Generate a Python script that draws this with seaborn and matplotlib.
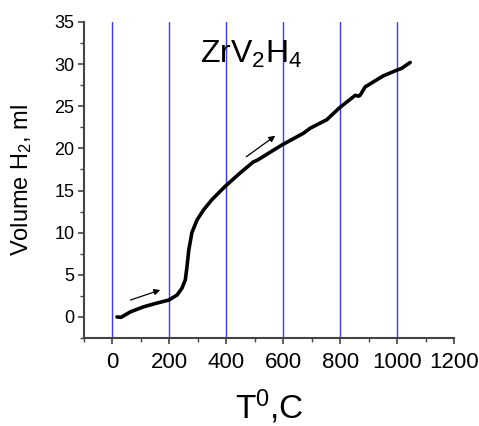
import matplotlib
matplotlib.use("Agg")
import matplotlib.pyplot as plt
import seaborn as sns
import pandas as pd
from matplotlib.ticker import MultipleLocator, FixedLocator

# Data
temperature = [16, 30, 63, 109, 157, 198, 227, 244, 256, 262, 268, 279, 297, 320, 349,
               396, 449, 495, 509, 595, 671, 695, 741, 753, 797, 853, 865, 870, 888,
               951, 993, 1016, 1046]
volume = [0.0, -0.05, 0.6, 1.2, 1.65, 2.0, 2.6, 3.4, 4.4, 6.0, 7.9, 10.0, 11.5, 12.7, 13.9,
          15.5, 17.1, 18.4, 18.6, 20.4, 21.8, 22.4, 23.2, 23.4, 24.8, 26.3, 26.2, 26.3, 27.3,
          28.6, 29.2, 29.5, 30.2]
grid_x = [0, 200, 400, 600, 800, 1000]
x_ticks = [0, 200, 400, 600, 800, 1000, 1200]
y_ticks = [0, 5, 10, 15, 20, 25, 30, 35]
arrow1 = [(63, 2.0), (168, 3.2)]
arrow2 = [(470, 19.0), (572, 21.5)]

sns.set_style("white")
plt.rcParams['font.family'] = ['Liberation Sans', 'DejaVu Sans']
plt.rcParams['mathtext.fontset'] = 'custom'
plt.rcParams['mathtext.rm'] = 'Liberation Sans'
plt.rcParams['mathtext.it'] = 'Liberation Sans'
plt.rcParams['mathtext.bf'] = 'Liberation Sans'
plt.rcParams['text.color'] = 'black'
plt.rcParams['xtick.color'] = 'black'
plt.rcParams['ytick.color'] = 'black'
plt.rcParams['axes.labelcolor'] = 'black'

fig = plt.figure(figsize=(4.79, 4.26), dpi=100)
ax = fig.add_axes([84/479, 1-338/426, 370/479, 316/426])

for gx in grid_x:
    ax.axvline(gx, color='#3a3aff', lw=1.0, zorder=1)

df = pd.DataFrame({'T': temperature, 'V': volume})
sns.lineplot(data=df, x='T', y='V', sort=False, color='black', lw=2.6, ax=ax, zorder=3)

for (x0, y0), (x1, y1) in (arrow1, arrow2):
    ax.annotate('', xy=(x1, y1), xytext=(x0, y0),
                arrowprops=dict(arrowstyle='-|>', color='black', lw=0.9, mutation_scale=9,
                                shrinkA=0, shrinkB=0))

ax.text(488, 30.1, r"ZrV$_2$H$_4$", fontsize=23, ha='center', va='baseline')

ax.set_xlim(-100, 1200)
ax.set_ylim(-2.5, 35)
ax.xaxis.set_major_locator(FixedLocator(x_ticks))
ax.xaxis.set_minor_locator(MultipleLocator(100))
ax.yaxis.set_major_locator(FixedLocator(y_ticks))
ax.yaxis.set_minor_locator(MultipleLocator(2.5))

for s in ['top', 'right']:
    ax.spines[s].set_visible(False)
for s in ['left', 'bottom']:
    ax.spines[s].set_color('#444444')
    ax.spines[s].set_linewidth(1.5)

ax.tick_params(axis='x', which='major', bottom=True, direction='out', length=4, width=1.2,
               color='#444444', labelsize=16, pad=6)
ax.tick_params(axis='x', which='minor', bottom=True, direction='out', length=3, width=1.0,
               color='#444444')
ax.tick_params(axis='y', which='major', left=True, direction='out', length=4, width=1.2,
               color='#444444', labelsize=13, pad=3)
ax.tick_params(axis='y', which='minor', left=True, direction='out', length=3, width=1.0,
               color='#444444')

ax.set_xlabel(r"T$^0$,C", fontsize=24)
ax.xaxis.set_label_coords(0.5, (338-419)/316)
ax.xaxis.label.set_va('baseline')
ax.set_ylabel(r"Volume H$_2$, ml", fontsize=17)
ax.yaxis.set_label_coords((22-84)/370, 0.5)
ax.yaxis.label.set_va('center')

fig.savefig('out.png', dpi=100)
